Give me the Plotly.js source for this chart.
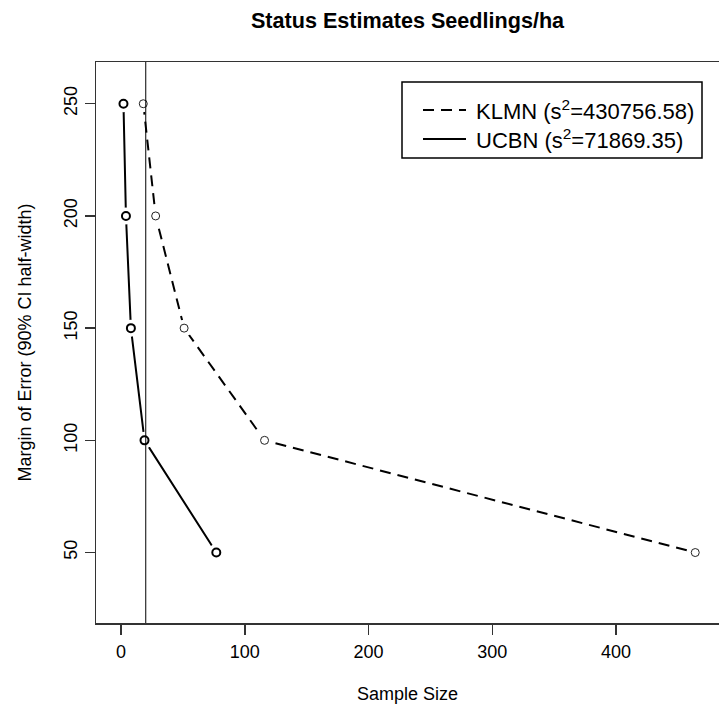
<!DOCTYPE html>
<html>
<head>
<meta charset="utf-8">
<script src="https://cdn.plot.ly/plotly-3.0.1.min.js"></script>
<style>
  html, body { margin: 0; padding: 0; background: #fff; overflow: hidden; }
  #chart { width: 719px; height: 713px; }
</style>
</head>
<body>
<div id="chart"></div>
<script>
// ---- data ----
const marginOfError = [250, 200, 150, 100, 50];
const klmnSampleSize = [18, 28, 51, 116, 464];
const ucbnSampleSize = [2, 4, 8, 19, 77];
const klmnLabel = 'KLMN (s<sup>2</sup>=430756.58)';
const ucbnLabel = 'UCBN (s<sup>2</sup>=71869.35)';
const referenceSampleSize = 20;
const xTickValues = [0, 100, 200, 300, 400];
const yTickValues = [50, 100, 150, 200, 250];

const FONT = '"Liberation Sans", Arial, Helvetica, sans-serif';
const INK = '#000';

// plot-area geometry in pixels (for the hand-drawn legend box)
const PLOT = { l: 96, t: 62, w: 623, h: 561 };
const px = v => (v - PLOT.l) / PLOT.w;       // pixel x -> paper x
const py = v => 1 - (v - PLOT.t) / PLOT.h;   // pixel y -> paper y

const KLMN_DASH = '11px,7px';

const traces = [
  // connecting lines
  { x: klmnSampleSize, y: marginOfError, mode: 'lines', name: 'KLMN', showlegend: false,
    line: { color: INK, width: 2, dash: KLMN_DASH }, hoverinfo: 'skip' },
  { x: ucbnSampleSize, y: marginOfError, mode: 'lines', name: 'UCBN', showlegend: false,
    line: { color: INK, width: 2 }, hoverinfo: 'skip' },
  // white halo to leave the gap of R's type="b"
  { x: klmnSampleSize, y: marginOfError, mode: 'markers', showlegend: false,
    marker: { color: '#fff', size: 17, line: { width: 0 } }, hoverinfo: 'skip' },
  { x: ucbnSampleSize, y: marginOfError, mode: 'markers', showlegend: false,
    marker: { color: '#fff', size: 17, line: { width: 0 } }, hoverinfo: 'skip' },
  // open circle points
  { x: klmnSampleSize, y: marginOfError, mode: 'markers', showlegend: false, name: 'KLMN',
    marker: { symbol: 'circle-open', size: 8, color: '#222', line: { width: 1, color: '#222' } } },
  { x: ucbnSampleSize, y: marginOfError, mode: 'markers', showlegend: false, name: 'UCBN',
    marker: { symbol: 'circle-open', size: 8, color: INK, line: { width: 2, color: INK } } }
];

const legendBox = { x0: 402, x1: 702, y0: 82, y1: 158 };
const legendRows = [110, 139];
const legendSeg = { x0: 423, x1: 466 };
const legendTextX = 474;

const layout = {
  width: 719,
  height: 713,
  margin: { l: PLOT.l, r: 0, t: PLOT.t, b: 713 - PLOT.t - PLOT.h, pad: 0 },
  paper_bgcolor: '#fff',
  plot_bgcolor: '#fff',
  font: { family: FONT, size: 18, color: INK },
  showlegend: false,
  title: {
    text: '<b>Status Estimates Seedlings/ha</b>',
    font: { family: FONT, size: 21.6, color: INK },
    xref: 'paper', x: 0.5, xanchor: 'center',
    yref: 'container', y: 1 - 20 / 713, yanchor: 'middle'
  },
  xaxis: {
    range: [-20.2, 483.2],
    tickvals: xTickValues,
    ticktext: xTickValues.map(String),
    ticks: 'outside', ticklen: 10, tickwidth: 1.5, tickcolor: '#333',
    ticklabelstandoff: 2,
    showline: true, linecolor: '#333', linewidth: 1.5, mirror: true,
    showgrid: false, zeroline: false,
    tickfont: { family: FONT, size: 18, color: INK },
    title: { text: 'Sample Size', font: { family: FONT, size: 18, color: INK }, standoff: 26 }
  },
  yaxis: {
    range: [18.6, 268.6],
    tickvals: yTickValues,
    ticktext: yTickValues.map(String),
    tickangle: -90,
    ticks: 'outside', ticklen: 10, tickwidth: 1.5, tickcolor: '#333',
    showline: true, linecolor: '#333', linewidth: 1.5, mirror: false,
    showgrid: false, zeroline: false,
    tickfont: { family: FONT, size: 18, color: INK },
    title: { text: 'Margin of Error (90% CI half-width)', font: { family: FONT, size: 18, color: INK }, standoff: 25 }
  },
  shapes: [
    // vertical reference line
    { type: 'line', xref: 'x', yref: 'paper', x0: referenceSampleSize, x1: referenceSampleSize,
      y0: 0, y1: 1, layer: 'above', line: { color: INK, width: 1 } },
    // legend frame
    { type: 'rect', xref: 'paper', yref: 'paper',
      x0: px(legendBox.x0), x1: px(legendBox.x1), y0: py(legendBox.y1), y1: py(legendBox.y0),
      fillcolor: '#fff', layer: 'above', line: { color: INK, width: 1.5 } },
    // legend samples
    { type: 'line', xref: 'paper', yref: 'paper',
      x0: px(legendSeg.x0), x1: px(legendSeg.x1), y0: py(legendRows[0]), y1: py(legendRows[0]),
      layer: 'above', line: { color: INK, width: 2, dash: KLMN_DASH } },
    { type: 'line', xref: 'paper', yref: 'paper',
      x0: px(legendSeg.x0), x1: px(legendSeg.x1), y0: py(legendRows[1]), y1: py(legendRows[1]),
      layer: 'above', line: { color: INK, width: 2 } }
  ],
  annotations: [
    { text: klmnLabel, xref: 'paper', yref: 'paper', x: px(legendTextX), y: py(legendRows[0]),
      xanchor: 'left', yanchor: 'middle', showarrow: false,
      font: { family: FONT, size: 22, color: INK } },
    { text: ucbnLabel, xref: 'paper', yref: 'paper', x: px(legendTextX), y: py(legendRows[1]),
      xanchor: 'left', yanchor: 'middle', showarrow: false,
      font: { family: FONT, size: 22, color: INK } }
  ]
};

Plotly.newPlot('chart', traces, layout, { staticPlot: true, displayModeBar: false });
</script>
</body>
</html>
